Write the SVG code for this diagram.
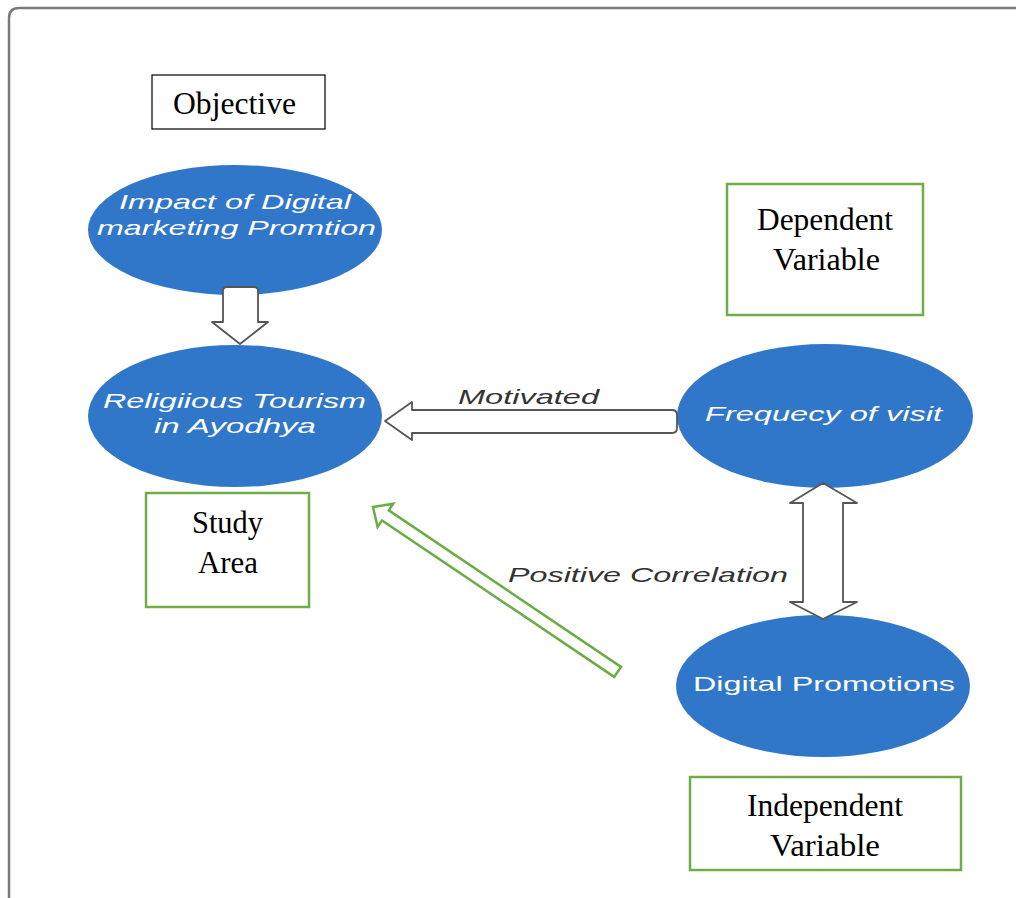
<svg xmlns="http://www.w3.org/2000/svg" width="1016" height="898" viewBox="0 0 1016 898">
<style>
.frame{fill:none;stroke:#7a7a7a;stroke-width:2.5}
.ell{fill:#3177c9}
.et{font-family:"Liberation Sans",Arial,sans-serif;font-size:21px;fill:#ffffff}
.it{font-style:italic}
.box{fill:#ffffff;stroke:#000;stroke-width:1.2}
.gbox{fill:#ffffff;stroke:#70ad47;stroke-width:2.5}
.bt{font-family:"Liberation Serif","Times New Roman",serif;font-size:31px;fill:#000}
.garrow{fill:#ffffff;stroke:#555;stroke-width:1.8;stroke-linejoin:round}
.grarrow{fill:#ffffff;stroke:#6aac45;stroke-width:2.5;stroke-linejoin:miter}
.lbl{font-family:"Liberation Sans",Arial,sans-serif;font-style:italic;font-size:21px;fill:#333}
</style>
<rect width="1016" height="898" fill="#ffffff"/>
<path class="frame" d="M9,898 V18 Q9,8 19,8 H1016"/>

<g id="objective">
<rect class="box" x="152" y="75" width="173" height="54"/>
<text class="bt" x="173" y="114" textLength="123" lengthAdjust="spacingAndGlyphs">Objective</text>
</g>

<g id="impact">
<ellipse class="ell" cx="235" cy="230" rx="147" ry="65"/>
<text class="et it" x="119" y="209" textLength="232" lengthAdjust="spacingAndGlyphs">Impact of Digital</text>
<text class="et it" x="97" y="235" textLength="279" lengthAdjust="spacingAndGlyphs">marketing Promtion</text>
</g>

<g id="religious">
<ellipse class="ell" cx="235" cy="416" rx="147" ry="71"/>
<text class="et it" x="103" y="408" textLength="263" lengthAdjust="spacingAndGlyphs">Religiious Tourism</text>
<text class="et it" x="154" y="433" textLength="162" lengthAdjust="spacingAndGlyphs">in Ayodhya</text>
</g>

<g id="frequency">
<ellipse class="ell" cx="825" cy="416" rx="148" ry="72"/>
<text class="et it" x="705" y="421" textLength="237" lengthAdjust="spacingAndGlyphs">Frequecy of visit</text>
</g>

<g id="digital">
<ellipse class="ell" cx="823" cy="686" rx="147" ry="71"/>
<text class="et" x="693" y="691" textLength="262" lengthAdjust="spacingAndGlyphs">Digital Promotions</text>
</g>

<g id="dependent">
<rect class="gbox" x="727" y="184" width="196" height="131"/>
<text class="bt" x="757" y="230" textLength="136" lengthAdjust="spacingAndGlyphs">Dependent</text>
<text class="bt" x="773" y="270" textLength="107" lengthAdjust="spacingAndGlyphs">Variable</text>
</g>

<g id="study">
<rect class="gbox" x="146" y="493" width="163" height="114"/>
<text class="bt" x="192" y="533" textLength="71" lengthAdjust="spacingAndGlyphs">Study</text>
<text class="bt" x="198" y="573" textLength="60" lengthAdjust="spacingAndGlyphs">Area</text>
</g>

<g id="independent">
<rect class="gbox" x="690" y="777" width="271" height="93"/>
<text class="bt" x="747" y="816" textLength="156" lengthAdjust="spacingAndGlyphs">Independent</text>
<text class="bt" x="770" y="856" textLength="110" lengthAdjust="spacingAndGlyphs">Variable</text>
</g>

<g id="connectors">
<path class="garrow" d="M227,287 H254 Q258,287 258,291 V322 H268 L240,344 L212,322 H223 V291 Q223,287 227,287 Z"/>
<path class="garrow" d="M672,410 Q677,410 677,415 V428 Q677,433 672,433 H412 V440 L385,421 L412,402 V410 Z"/>
<path class="garrow" d="M823,483 L857,503 H843 V602 H857 L823,619 L790,602 H803 V503 H790 Z"/>
<polygon class="grarrow" points="373,507 393.2,503.8 388.8,510.4 621,666.9 614.2,676.9 382,520.4 377.6,527"/>
<text class="lbl" x="458" y="404" textLength="141" lengthAdjust="spacingAndGlyphs">Motivated</text>
<text class="lbl" x="508" y="582" textLength="280" lengthAdjust="spacingAndGlyphs">Positive Correlation</text>
</g>
</svg>
